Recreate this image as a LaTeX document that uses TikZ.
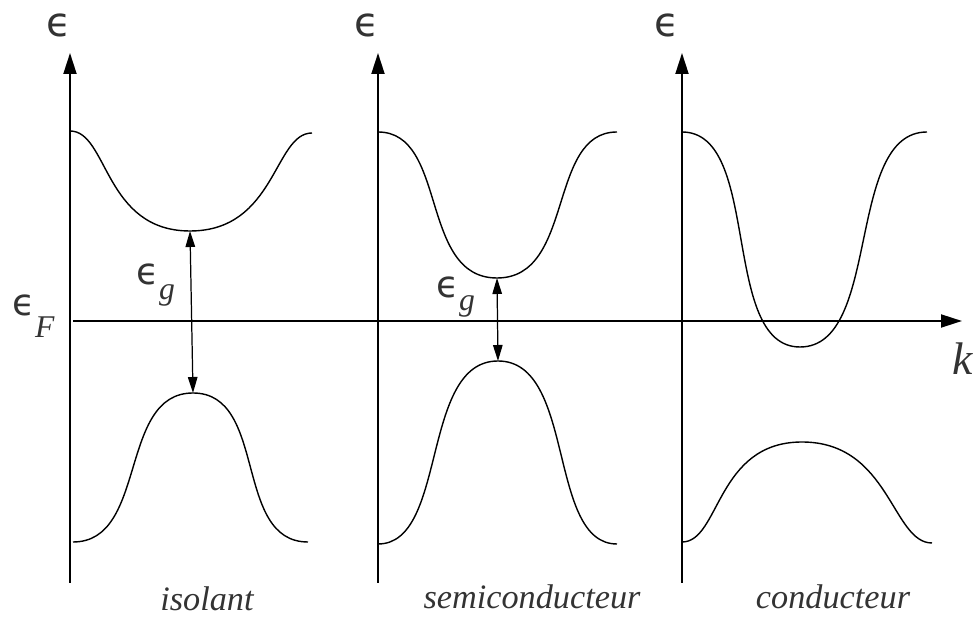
\documentclass[tikz,border=0pt]{standalone}
\usepackage{fontspec}
\setmainfont{Liberation Serif}
\newfontfamily\epsfont{DejaVu Sans}
\usetikzlibrary{arrows.meta}
\definecolor{ink}{HTML}{333333}

\begin{document}
\begin{tikzpicture}[
  x=0.02cm,y=-0.02cm,
  axis/.style={-{Triangle[length=4.2mm,width=2.6mm]},line width=1.1pt},
  band/.style={line width=0.8pt},
  gap/.style={{Triangle[length=3.2mm,width=1.9mm]}-{Triangle[length=3.2mm,width=1.9mm]},
    line width=0.7pt},
  energy/.style={text=ink,inner sep=0pt,font=\epsfont\fontsize{23}{27}\selectfont},
  energysub/.style={energy,anchor=base west,font=\epsfont\fontsize{21}{25}\selectfont},
  solid name/.style={text=ink,inner sep=0pt,anchor=base,
    font=\fontsize{19.5}{23}\selectfont\itshape}
]
\useasboundingbox (0,0) rectangle (975,617);

% axes
\coordinate (bot1) at (70,583);
\coordinate (top1) at (70,53);
\coordinate (bot2) at (378,583);
\coordinate (top2) at (378,53);
\coordinate (bot3) at (682,583);
\coordinate (top3) at (682,53);
\coordinate (kstart) at (73,321);
\coordinate (kend) at (962,321);
\draw[axis] (bot1) -- (top1);
\draw[axis] (bot2) -- (top2);
\draw[axis] (bot3) -- (top3);
\draw[axis] (kstart) -- (kend);

\node[energy] (eps1) at (59,25) {ϵ};
\node[energy] (eps2) at (367,25) {ϵ};
\node[energy] (eps3) at (667,25) {ϵ};
\node[energysub] (epsF) at (12,316)
  {ϵ\raisebox{-12pt}{\fontsize{18}{18}\selectfont\rmfamily\itshape F}};
\node[text=ink,inner sep=0pt,anchor=base,font=\fontsize{26}{30}\selectfont\itshape]
  (k) at (963,375) {k};

% band extrema
\coordinate (cb1) at (190,231);
\coordinate (vb1) at (193,393);
\coordinate (cb2) at (497,278);
\coordinate (vb2) at (498,361);
\coordinate (cb3) at (800,347);
\coordinate (vb3) at (802,442);

% isolant
\draw[band] (70,131) .. controls (108,131) and (104,231) .. (cb1)
  .. controls (276,231) and (274,133) .. (312,133);
\draw[band] (73,542) .. controls (148,542) and (118,393) .. (vb1)
  .. controls (268,393) and (233,542) .. (308,542);
\draw[gap] (cb1) -- (vb1);
\node[energysub] (epsg1) at (136,285)
  {ϵ\raisebox{-8pt}{\fontsize{18}{18}\selectfont\rmfamily\itshape g}};

% semiconducteur
\draw[band] (378,132) .. controls (448,132) and (419,278) .. (cb2)
  .. controls (575,278) and (547,132) .. (617,132);
\draw[band] (378,544) .. controls (448,544) and (420,361) .. (vb2)
  .. controls (576,361) and (547,544) .. (617,544);
\draw[gap] (cb2) -- (vb2);
\node[energysub] (epsg2) at (436,298)
  {ϵ\raisebox{-7pt}{\fontsize{18}{18}\selectfont\rmfamily\itshape g}};

% conducteur
\draw[band] (682,132) .. controls (762,132) and (720,347) .. (cb3)
  .. controls (882,347) and (845,132) .. (927,132);
\draw[band] (682,542) .. controls (720,542) and (716,442) .. (vb3)
  .. controls (890,442) and (892,543) .. (932,543);

\node[solid name] (isolant) at (207,611) {isolant};
\node[solid name] (semi) at (532,609) {semiconducteur};
\node[solid name] (cond) at (833,609) {conducteur};
\end{tikzpicture}
\end{document}
